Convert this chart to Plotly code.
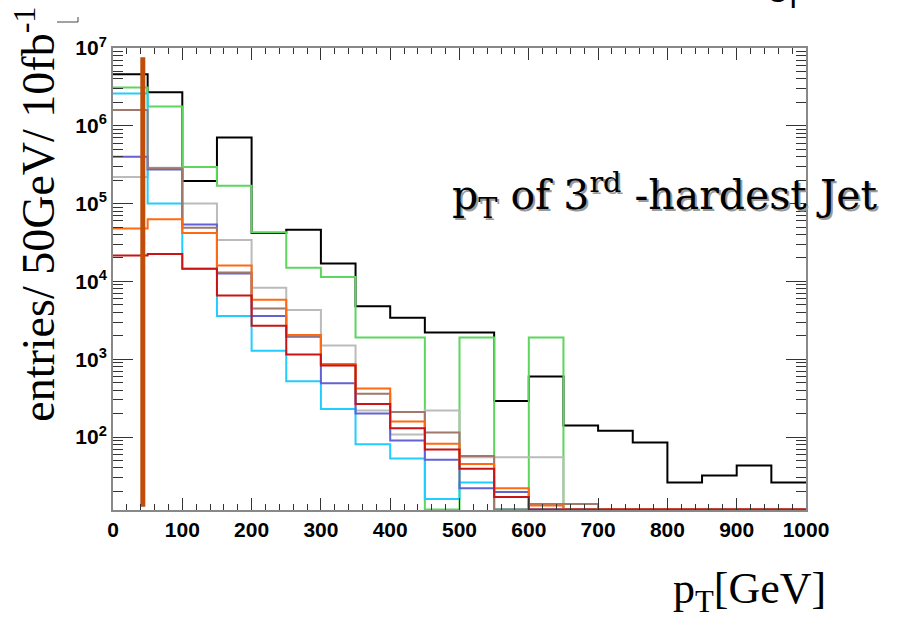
import numpy as np
import plotly.graph_objects as go

# ---------------- data ----------------
bin_edges = list(range(0, 1050, 50))          # GeV, 20 bins of 50 GeV

black  = [4.6e6, 2.7e6, 1.95e5, 7.1e5, 4.2e4, 4.6e4, 1.7e4, 4.8e3, 3.4e3, 2.2e3,
          2.2e3, 2.9e2, 6.0e2, 1.41e2, 1.2e2, 85, 26, 32, 43, 26]
green  = [3.1e6, 1.77e6, 2.95e5, 1.7e5, 4.3e4, 1.5e4, 1.14e4, 1.9e3, 1.9e3, 0,
          1.9e3, 0, 1.9e3, 0, 0, 0, 0, 0, 0, 0]
gray   = [2.2e5, 2.9e5, 1.0e5, 3.4e4, 8.3e3, 4.3e3, 1.5e3, 2.2e2, 1.08e2, 2.2e2,
          55, 55, 55, 0, 0, 0, 0, 0, 0, 0]
cyan   = [2.6e6, 1.0e5, 1.45e4, 3.6e3, 1.28e3, 5.2e2, 2.3e2, 81, 53, 16,
          26, 0, 0, 0, 0, 0, 0, 0, 0, 0]
blue   = [4.0e5, 2.75e5, 5.4e4, 1.26e4, 3.6e3, 1.95e3, 4.9e2, 2.0e2, 90, 51,
          22, 19.6, 0, 0, 0, 0, 0, 0, 0, 0]
brown  = [1.6e6, 2.85e5, 4.9e4, 1.3e4, 4.5e3, 2.0e3, 8.5e2, 3.6e2, 2.1e2, 1.14e2,
          57, 0, 13.8, 13.8, 0, 0, 0, 0, 0, 0]
orange = [4.8e4, 6.3e4, 4.2e4, 1.6e4, 5.8e3, 2.05e3, 8.7e2, 4.2e2, 1.58e2, 82,
          45, 22, 13.2, 0, 0, 0, 0, 0, 0, 0]
red    = [2.15e4, 2.25e4, 1.45e4, 6.6e3, 2.7e3, 1.15e3, 8.3e2, 2.65e2, 1.3e2, 69,
          39, 17, 0, 0, 0, 0, 0, 0, 0, 0]

cut_x = [43, 43]
cut_y = [12.7, 7.6e6]

y_tick_vals = [1e2, 1e3, 1e4, 1e5, 1e6, 1e7]
y_tick_text = ["10<sup>2</sup>", "10<sup>3</sup>", "10<sup>4</sup>",
               "10<sup>5</sup>", "10<sup>6</sup>", "10<sup>7</sup>"]
x_tick_vals = list(range(0, 1100, 100))
x_tick_text = [str(v) for v in x_tick_vals]

y_log_min, y_log_max = 1.062, 7.0
floor_val = 10 ** (y_log_min + 0.006)   # empty bins sit on the frame bottom

series = [
    (black,  "#000000"),
    (green,  "#5cd65c"),
    (gray,   "#bbbbbb"),
    (cyan,   "#22ccff"),
    (blue,   "#6262d4"),
    (brown,  "#a0786c"),
    (orange, "#ff6a10"),
    (red,    "#c81414"),
]

fig = go.Figure()
for vals, col in series:
    yv = [max(v, floor_val) for v in vals]
    yv = yv + [yv[-1]]
    fig.add_trace(go.Scatter(x=bin_edges, y=yv, mode="lines", line_shape="hv",
                             line=dict(color=col, width=2), hoverinfo="skip"))

fig.add_trace(go.Scatter(x=cut_x, y=cut_y, mode="lines",
                         line=dict(color="#c04d0a", width=5), hoverinfo="skip"))

tickfont = dict(family="Liberation Sans", size=21, color="black", weight="bold")

fig.update_layout(
    width=897, height=619,
    margin=dict(l=113, r=91, t=48, b=109),
    paper_bgcolor="white", plot_bgcolor="white",
    showlegend=False,
    xaxis=dict(range=[0, 1000], tickvals=x_tick_vals, ticktext=x_tick_text,
               ticks="inside", ticklen=12, tickwidth=1, tickcolor="#333",
               showline=True, linecolor="#888", linewidth=2, mirror="allticks",
               showgrid=False, zeroline=False, tickfont=tickfont,
               minor=dict(ticks="inside", ticklen=6, dtick=20, tickcolor="#333",
                          tickwidth=1, showgrid=False)),
    yaxis=dict(type="log", range=[y_log_min, y_log_max],
               tickvals=y_tick_vals, ticktext=y_tick_text,
               ticks="inside", ticklen=20, tickwidth=1, tickcolor="#333",
               showline=True, linecolor="#888", linewidth=2, mirror="allticks",
               showgrid=False, zeroline=False, tickfont=tickfont,
               minor=dict(ticks="inside", ticklen=10, dtick="D1", tickcolor="#333",
                          tickwidth=1, showgrid=False)),
)

serif = "Liberation Serif"
# y-axis title
fig.add_annotation(text="entries/ 50GeV/ 10fb<sup>-1</sup>", textangle=-90,
                   xref="paper", yref="paper", x=-0.112, y=0.64,
                   xanchor="center", yanchor="middle", showarrow=False,
                   font=dict(family=serif, size=46, color="black"))
# x-axis title
fig.add_annotation(text="p<sub>T</sub>[GeV]", xref="paper", yref="paper",
                   x=1.032, y=-0.177, xanchor="right", yanchor="middle",
                   showarrow=False, font=dict(family=serif, size=44, color="black"))
# in-plot title with shadow
title_txt = "p<sub>T</sub> of 3<sup>rd</sup> -hardest Jet"
title_font = "DejaVu Serif"
fig.add_annotation(text=title_txt, xref="paper", yref="paper", x=0.797, y=0.682,
                   xanchor="center", yanchor="middle", showarrow=False,
                   xshift=2, yshift=-2,
                   font=dict(family=title_font, size=41, color="#9a9a9a"))
fig.add_annotation(text=title_txt, xref="paper", yref="paper", x=0.797, y=0.682,
                   xanchor="center", yanchor="middle", showarrow=False,
                   font=dict(family=title_font, size=41, color="black"))
# clipped label at top
fig.add_annotation(text="C<sub>T</sub>", xref="paper", yref="paper",
                   x=0.967, y=1.074, xanchor="center", yanchor="bottom",
                   showarrow=False, font=dict(family="Liberation Sans", size=28,
                                              color="black", weight="bold"))
# small corner stub at top-left
fig.add_shape(type="line", xref="paper", yref="paper",
              x0=(57 - 113) / 693, x1=(78 - 113) / 693,
              y0=(510 - 22) / 462, y1=(510 - 22) / 462,
              line=dict(color="#444", width=1))
fig.add_shape(type="line", xref="paper", yref="paper",
              x0=(78 - 113) / 693, x1=(78 - 113) / 693,
              y0=(510 - 22) / 462, y1=(510 - 17) / 462,
              line=dict(color="#444", width=1))

fig.write_html("out.html")
